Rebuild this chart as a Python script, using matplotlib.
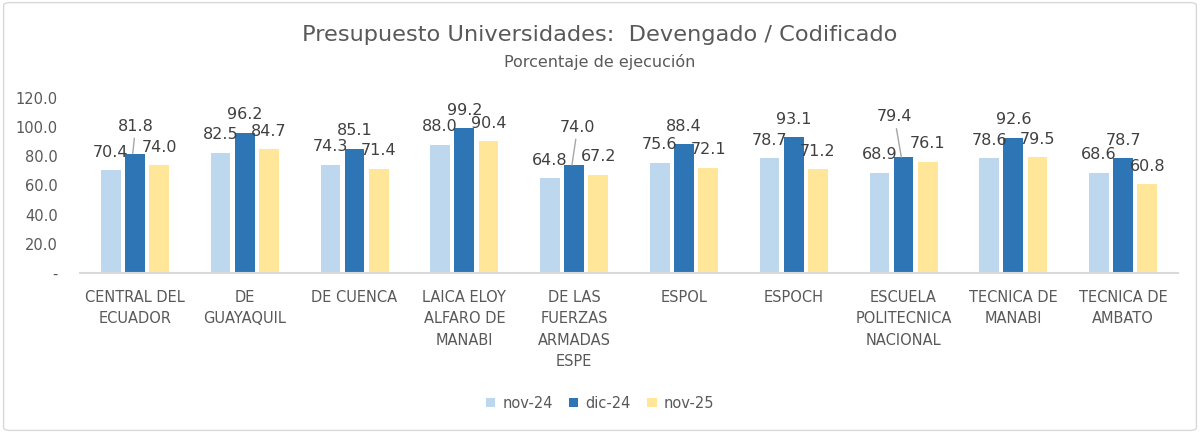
import numpy as np
import matplotlib.pyplot as plt
from matplotlib.patches import FancyBboxPatch
from matplotlib.ticker import FuncFormatter

universidades = ['CENTRAL DEL\nECUADOR', 'DE\nGUAYAQUIL', 'DE CUENCA',
                 'LAICA ELOY\nALFARO DE\nMANABI', 'DE LAS\nFUERZAS\nARMADAS\nESPE',
                 'ESPOL', 'ESPOCH', 'ESCUELA\nPOLITECNICA\nNACIONAL',
                 'TECNICA DE\nMANABI', 'TECNICA DE\nAMBATO']
nov24 = [70.4, 82.5, 74.3, 88.0, 64.8, 75.6, 78.7, 68.9, 78.6, 68.6]
dic24 = [81.8, 96.2, 85.1, 99.2, 74.0, 88.4, 93.1, 79.4, 92.6, 78.7]
nov25 = [74.0, 84.7, 71.4, 90.4, 67.2, 72.1, 71.2, 76.1, 79.5, 60.8]
series = [('nov-24', nov24, '#BDD7EE'),
          ('dic-24', dic24, '#2E75B6'),
          ('nov-25', nov25, '#FFE699')]

# some dic-24 labels were moved by hand in the original (with leader lines)
dic_label_shift = {0: (2, 19.5), 4: (4, 27), 7: (-5, 29)}

txt = '#595959'
x = np.arange(len(universidades))
w = 0.18
step = 0.22

fig = plt.figure(figsize=(12, 4.33), dpi=100)
ax = fig.add_axes([0.0667, 0.3695, 0.915, 0.4042])

for i, (name, vals, col) in enumerate(series):
    pos = x + (i - 1) * step
    ax.bar(pos, vals, width=w, color=col, label=name, zorder=2)
    for j, (p, v) in enumerate(zip(pos, vals)):
        if i == 1 and j in dic_label_shift:
            dx, dy = dic_label_shift[j]
            ax.annotate(f'{v:.1f}', (p - 0.02, v), xytext=(dx, dy),
                        textcoords='offset points', ha='center', va='center',
                        fontsize=11.5, color='#404040',
                        arrowprops=dict(arrowstyle='-', color='#a6a6a6', lw=1,
                                        shrinkA=1, shrinkB=0))
        else:
            ax.annotate(f'{v:.1f}', (p, v), xytext=(0, 13),
                        textcoords='offset points', ha='center', va='center',
                        fontsize=11.5, color='#404040')

ax.set_xlim(-0.5, len(universidades) - 0.5)
ax.set_ylim(0, 120)
ax.set_yticks(np.arange(0, 121, 20))
ax.yaxis.set_major_formatter(FuncFormatter(lambda v, p: '-' if v == 0 else f'{v:.1f}'))
ax.set_xticks(x)
ax.set_xticklabels(universidades, linespacing=1.55)
ax.tick_params(axis='y', length=0, pad=16, labelsize=10.5, labelcolor=txt)
ax.tick_params(axis='x', length=0, pad=12, labelsize=10.5, labelcolor=txt)
for s in ['top', 'right', 'left']:
    ax.spines[s].set_visible(False)
ax.spines['bottom'].set_color('#d9d9d9')
ax.spines['bottom'].set_linewidth(1.5)

fig.text(0.5, 1 - 35 / 433, 'Presupuesto Universidades:  Devengado / Codificado',
         ha='center', va='center', fontsize=16.2, color=txt)
fig.text(0.5, 1 - 62 / 433, 'Porcentaje de ejecución',
         ha='center', va='center', fontsize=11.5, color=txt)

fig.legend(loc='center', bbox_to_anchor=(0.5, 1 - 403 / 433), ncol=3,
           frameon=False, fontsize=10.5, labelcolor=txt,
           handlelength=0.65, handleheight=0.65, handletextpad=0.5, columnspacing=1.1)

fig.patches.append(FancyBboxPatch((0.003, 0.006), 0.994, 0.988,
                                  boxstyle='round,pad=0,rounding_size=0.006',
                                  transform=fig.transFigure, fill=False,
                                  ec='#d9d9d9', lw=1))

fig.savefig('out.png', dpi=100)
